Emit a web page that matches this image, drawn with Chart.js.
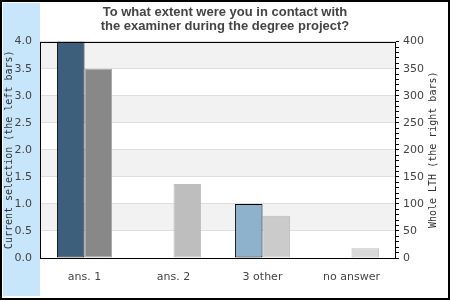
<!DOCTYPE html>
<html lang="en">
<head>
    <meta charset="UTF-8">
    <title>Contact with examiner</title>
    <script src="https://cdn.jsdelivr.net/npm/chart.js@4/dist/chart.umd.min.js"></script>
    <style>
        body { margin: 0; background: #fff; }
        #wrap { width: 444px; height: 294px; border: 2px solid #000; padding: 1px; background: #fff; }
    </style>
</head>
<body>
    <div id="wrap"><canvas id="chart" width="444" height="294"></canvas></div>

    <script>
        // data
        const categories = ['ans. 1', 'ans. 2', '3 other', 'no answer'];
        const currentSelection = [4.0, 0, 1.0, 0];      // left axis
        const wholeLTH = [350, 137, 78, 18];            // right axis
        const leftColors = ['#3e5f7b', '#3e5f7b', '#8eb1cc', '#8eb1cc'];
        const rightColors = ['#888888', '#bebebe', '#cbcbcb', '#d8d8d8'];
        const rightBorders = ['#a6a6a6', '#bebebe', '#bcbcbc', '#bdbdbd'];
        const titleLines = ['To what extent were you in contact with', 'the examiner during the degree project?'];

        // background strip, bands, frame and axis titles
        const decor = {
            id: 'decor',
            beforeDraw(chart) {
                const c = chart.ctx, a = chart.chartArea, y = chart.scales.y;
                c.save();
                c.fillStyle = '#c8e6fb';
                c.fillRect(0, 0, 37, 293);
                c.fillStyle = '#f2f2f2';
                for (let v = 0.5; v < 4; v += 1) {
                    const top = y.getPixelForValue(v + 0.5), bot = y.getPixelForValue(v);
                    c.fillRect(a.left, top, a.right - a.left, bot - top);
                }
                c.restore();
            },
            afterDraw(chart) {
                const c = chart.ctx, a = chart.chartArea;
                c.save();
                c.strokeStyle = '#000';
                c.lineWidth = 1;
                c.strokeRect(Math.round(a.left) + 0.5, Math.round(a.top) + 0.5,
                    Math.round(a.right - a.left) - 1, Math.round(a.bottom - a.top));
                c.fillStyle = '#333';
                c.font = '10px "DejaVu Sans Mono", monospace';
                c.textAlign = 'center';
                c.textBaseline = 'middle';
                const mid = (a.top + a.bottom) / 2;
                c.translate(6, mid); c.rotate(-Math.PI / 2);
                c.fillText('Current selection (the left bars)', 0, 0);
                c.setTransform(1, 0, 0, 1, 0, 0);
                c.translate(430, mid); c.rotate(-Math.PI / 2);
                c.fillText('Whole LTH (the right bars)', 0, 0);
                c.restore();
            }
        };

        const ctx = document.getElementById('chart').getContext('2d');
        const chart = new Chart(ctx, {
            type: 'bar',
            data: {
                labels: categories,
                datasets: [{
                    label: 'Current selection',
                    data: currentSelection.map(v => v || null),
                    yAxisID: 'y',
                    backgroundColor: leftColors,
                    borderColor: '#000',
                    borderWidth: 1,
                    borderSkipped: false
                }, {
                    label: 'Whole LTH',
                    data: wholeLTH,
                    yAxisID: 'y1',
                    backgroundColor: rightColors,
                    borderColor: rightBorders,
                    borderWidth: 1,
                    borderSkipped: false
                }]
            },
            options: {
                responsive: false,
                animation: false,
                categoryPercentage: 0.62,
                barPercentage: 1.0,
                plugins: {
                    legend: { display: false },
                    tooltip: { enabled: false },
                    title: {
                        display: true,
                        text: titleLines,
                        color: '#444',
                        font: { family: '"Liberation Sans", Arial', size: 13, weight: 'bold', lineHeight: 1.1 },
                        padding: { top: 2, bottom: 8 }
                    }
                },
                scales: {
                    x: {
                        grid: { display: false },
                        border: { display: false },
                        ticks: { color: '#444', padding: 5, font: { family: '"DejaVu Sans"', size: 11 } },
                        afterFit(s) { s.height = 39; }
                    },
                    y: {
                        position: 'left',
                        min: 0, max: 4,
                        grid: { color: '#dedede', drawTicks: false },
                        border: { display: false },
                        ticks: {
                            stepSize: 0.5, padding: 8, color: '#444',
                            font: { family: '"DejaVu Sans"', size: 11 },
                            callback: v => v.toFixed(1)
                        },
                        afterFit(s) { s.width = 37; }
                    },
                    y1: {
                        position: 'right',
                        min: 0, max: 400,
                        grid: { drawOnChartArea: false, color: '#000', tickLength: 3 },
                        border: { display: false },
                        ticks: {
                            stepSize: 10, maxTicksLimit: 100, autoSkip: false, padding: 4, color: '#444',
                            font: { family: '"DejaVu Sans"', size: 11 },
                            callback: v => (v % 50 === 0 ? v : '')
                        },
                        afterFit(s) { s.width = 51; }
                    }
                }
            },
            plugins: [decor]
        });
    </script>
</body>
</html>
